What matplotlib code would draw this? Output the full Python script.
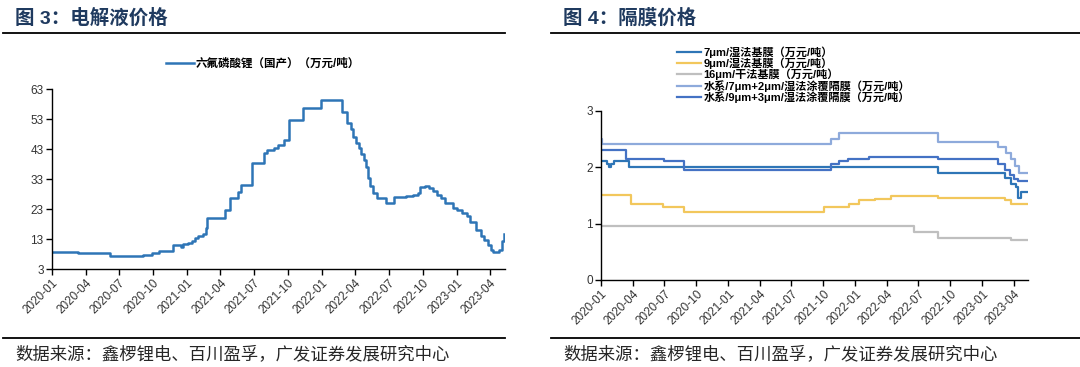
import matplotlib
matplotlib.use("Agg")
import matplotlib.pyplot as plt
import matplotlib.dates as mdates
from matplotlib.lines import Line2D
import pandas as pd

plt.rcParams['font.family'] = ['Liberation Sans', 'Noto Sans CJK SC', 'DejaVu Sans']

# ---- 图3 电解液: 六氟磷酸锂 change points ----
lipf6_dates = ["2020-01-01", "2020-01-06", "2020-03-11", "2020-06-07", "2020-09-04", "2020-09-27",
               "2020-10-16", "2020-11-24", "2020-12-16", "2020-12-20", "2021-01-03", "2021-01-15",
               "2021-01-22", "2021-01-31", "2021-02-14", "2021-02-22", "2021-02-25", "2021-04-13",
               "2021-04-28", "2021-05-18", "2021-05-28", "2021-06-25", "2021-07-27", "2021-08-06",
               "2021-08-24", "2021-09-03", "2021-09-21", "2021-10-05", "2021-11-10", "2021-12-30",
               "2022-02-24", "2022-03-11", "2022-03-22", "2022-03-27", "2022-04-03", "2022-04-12",
               "2022-04-17", "2022-04-24", "2022-04-30", "2022-05-06", "2022-05-12", "2022-05-19",
               "2022-05-31", "2022-06-23", "2022-07-15", "2022-08-18", "2022-09-06", "2022-09-17",
               "2022-09-25", "2022-10-06", "2022-10-18", "2022-10-30", "2022-11-10", "2022-11-20",
               "2022-12-01", "2022-12-22", "2023-01-03", "2023-01-15", "2023-01-29", "2023-02-07",
               "2023-02-23", "2023-03-07", "2023-03-16", "2023-03-26", "2023-04-04", "2023-04-10",
               "2023-04-27", "2023-05-04", "2023-05-10"]
lipf6_vals = [8.8, 8.6, 8.3, 7.2, 7.8, 8.3,
              9.1, 10.9, 10.4, 11.2, 11.7, 12.3,
              13.3, 14.1, 14.8, 16.7, 20.0, 22.6,
              26.7, 28.6, 30.9, 38.2, 41.7, 42.8,
              43.3, 44.4, 46.1, 52.6, 56.7, 59.2,
              55.2, 51.7, 49.7, 47.0, 45.0, 43.3,
              41.4, 39.4, 37.0, 33.3, 30.6, 28.3,
              26.7, 25.0, 26.9, 27.2, 27.8, 28.3,
              30.3, 30.8, 30.0, 29.1, 27.8, 26.7,
              25.0, 23.3, 22.6, 21.7, 20.6, 18.6,
              16.1, 13.9, 12.6, 11.1, 9.2, 8.7,
              9.2, 12.2, 14.8]

# ---- 图4 隔膜 ----
wet7_dates = ["2020-01-01", "2020-01-17", "2020-01-24", "2020-01-31", "2020-02-07", "2020-03-22",
              "2022-08-26", "2023-03-06", "2023-03-24", "2023-04-07", "2023-04-14", "2023-04-21",
              "2023-05-12"]
wet7_vals = [2.10, 2.05, 2.00, 2.05, 2.10, 2.00, 1.90, 1.80, 1.70, 1.65, 1.46, 1.55, 1.55]

wet9_dates = ["2020-01-01", "2020-03-27", "2020-06-27", "2020-08-26", "2021-10-04", "2021-12-14",
              "2022-01-11", "2022-02-27", "2022-04-13", "2022-08-27", "2023-03-06", "2023-03-25",
              "2023-05-12"]
wet9_vals = [1.50, 1.35, 1.30, 1.20, 1.30, 1.35, 1.42, 1.44, 1.48, 1.46, 1.41, 1.35, 1.35]

dry16_dates = ["2020-01-01", "2022-06-18", "2022-08-26", "2023-03-25", "2023-05-12"]
dry16_vals = [0.95, 0.85, 0.75, 0.70, 0.70]

coat72_dates = ["2020-01-01", "2020-01-03", "2021-10-23", "2021-11-15", "2022-08-26", "2023-02-16",
                "2023-03-11", "2023-03-25", "2023-04-06", "2023-04-15", "2023-05-12"]
coat72_vals = [2.50, 2.40, 2.50, 2.60, 2.45, 2.35, 2.25, 2.15, 2.02, 1.90, 1.90]

coat93_dates = ["2020-01-01", "2020-03-14", "2020-07-01", "2020-08-27", "2021-10-23", "2021-11-15",
                "2021-12-12", "2022-02-09", "2022-08-26", "2023-02-16", "2023-03-07", "2023-03-22",
                "2023-04-03", "2023-04-12", "2023-05-12"]
coat93_vals = [2.30, 2.15, 2.10, 1.95, 2.05, 2.10, 2.15, 2.17, 2.15, 2.05, 1.95, 1.85, 1.78, 1.75, 1.75]

sep_series = [
    ("7μm/湿法基膜（万元/吨）", wet7_dates, wet7_vals, "#2e75b6"),
    ("9μm/湿法基膜（万元/吨）", wet9_dates, wet9_vals, "#f2c75c"),
    ("16μm/干法基膜（万元/吨）", dry16_dates, dry16_vals, "#bfbfbf"),
    ("水系/7μm+2μm/湿法涂覆隔膜（万元/吨）", coat72_dates, coat72_vals, "#8eaadb"),
    ("水系/9μm+3μm/湿法涂覆隔膜（万元/吨）", coat93_dates, coat93_vals, "#4472c4"),
]

tick_dates = pd.date_range("2020-01-01", "2023-04-01", freq="QS")
x_start = pd.Timestamp("2020-01-01")
x_end = pd.Timestamp("2023-05-12")

W, H = 1080, 367
fig = plt.figure(figsize=(W / 100, H / 100), dpi=100)

title_color = "#1f3a5f"
text_color = "#262626"


def style_axis(ax):
    for s in ["top", "right"]:
        ax.spines[s].set_visible(False)
    for s in ["left", "bottom"]:
        ax.spines[s].set_color("black")
        ax.spines[s].set_linewidth(1.0)
    ax.set_xlim(x_start, x_end)
    ax.set_xticks(tick_dates)
    ax.xaxis.set_major_formatter(mdates.DateFormatter("%Y-%m"))
    ax.tick_params(axis="both", direction="out", length=4, width=1, color="black",
                   labelsize=8.5, labelcolor="#333333", pad=2)
    for lab in ax.get_xticklabels():
        lab.set_rotation(45)
        lab.set_ha("right")
        lab.set_rotation_mode("anchor")


def fig_line(x0, x1, y):
    fig.add_artist(Line2D([x0 / W, x1 / W], [1 - y / H, 1 - y / H], color="black", lw=1.3))


# left panel
ax1 = fig.add_axes([52 / W, 1 - 269 / H, 453 / W, 180 / H])
ax1.plot(pd.to_datetime(lipf6_dates), lipf6_vals, drawstyle="steps-post", color="#2e75b6", lw=1.8)
ax1.set_ylim(3, 63)
ax1.set_yticks(range(3, 64, 10))
style_axis(ax1)
fig.legend(handles=[Line2D([], [], color="#2e75b6", lw=1.8)],
           labels=["六氟磷酸锂（国产）（万元/吨）"], loc="center left",
           bbox_to_anchor=(166 / W, 1 - 64 / H), frameon=False, handlelength=2.4,
           handletextpad=0.2, borderaxespad=0, borderpad=0,
           prop={"size": 8.3, "weight": "bold"})

# right panel
ax2 = fig.add_axes([601 / W, 1 - 280 / H, 427 / W, 169.5 / H])
handles = []
for name, d, v, c in sep_series:
    h, = ax2.plot(pd.to_datetime(d), v, drawstyle="steps-post", color=c, lw=1.6, label=name)
    handles.append(h)
ax2.set_ylim(0, 3)
ax2.set_yticks([0, 1, 2, 3])
style_axis(ax2)
fig.legend(handles=handles, labels=[s[0] for s in sep_series], loc="upper left",
           bbox_to_anchor=(677 / W, 1 - 46 / H), frameon=False, handlelength=2.2,
           handletextpad=0.2, labelspacing=-0.02, borderaxespad=0, borderpad=0,
           prop={"size": 8.0, "weight": "bold"})

# titles and rules
fig.text(15 / W, 1 - 18 / H, "图 3：电解液价格", fontsize=14, fontweight="bold",
         color=title_color, va="center", ha="left")
fig.text(563 / W, 1 - 18 / H, "图 4：隔膜价格", fontsize=14, fontweight="bold",
         color=title_color, va="center", ha="left")
fig_line(3, 505, 33)
fig_line(551, 1080, 33)
fig_line(3, 505, 338)
fig_line(551, 1080, 338)
fig.text(15 / W, 1 - 354 / H, "数据来源：鑫椤锂电、百川盈孚，广发证券发展研究中心", fontsize=12.5,
         color=text_color, va="center", ha="left")
fig.text(563 / W, 1 - 354 / H, "数据来源：鑫椤锂电、百川盈孚，广发证券发展研究中心", fontsize=12.5,
         color=text_color, va="center", ha="left")

fig.savefig("out.png", dpi=100)
